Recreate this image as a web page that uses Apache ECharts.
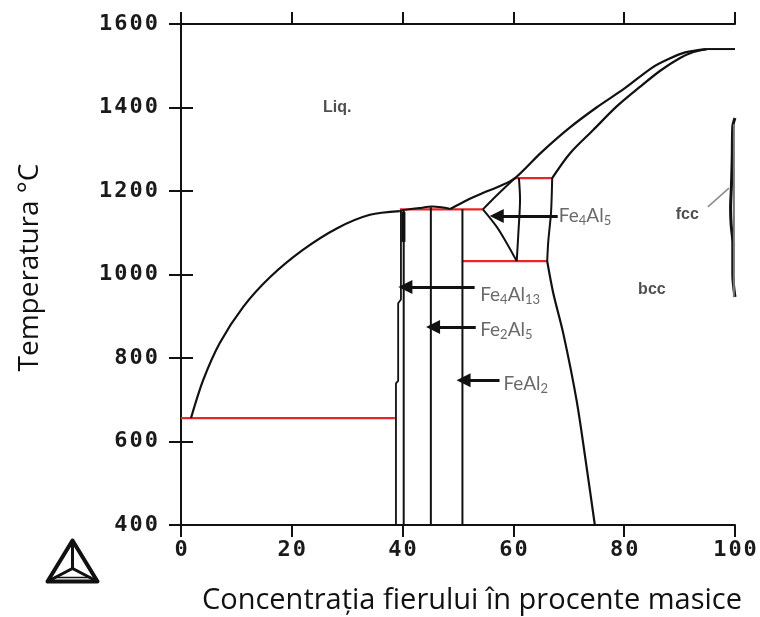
<!DOCTYPE html>
<html>
<head>
<meta charset="utf-8">
<script src="https://cdn.jsdelivr.net/npm/echarts@6/dist/echarts.min.js"></script>
<style>
html,body{margin:0;padding:0;background:#fff;}
#chart{width:760px;height:617px;}
</style>
</head>
<body>
<div id="chart"></div>
<script>
// ---- axes ----
const xTicks = [0, 20, 40, 60, 80, 100];
const yTicks = [400, 600, 800, 1000, 1200, 1400, 1600];

// ---- black phase boundaries [wt% Fe, T °C] ----
const liquidusAl = [[1.8,656],[4.0,747],[7.0,836],[11.2,922],[16.1,994],[22.0,1059],[28.2,1111],[34.1,1143],[39.5,1152]];
const liquidusHump = [[39.5,1152],[41,1156],[43,1159],[45.3,1163],[47,1161],[48.6,1157]];
const liquidusFe = [[48.6,1157],[51.6,1178],[54.5,1195],[57.6,1212],[60.3,1231],[65,1292],[70,1350],[75,1400],[80,1445],[85,1495],[88,1516],[91,1532],[94.9,1540]];
const meltFe = [[94.9,1540],[100,1540]];
const solidusBcc = [[67.0,1231],[70.2,1290],[74.4,1346],[78.6,1402],[82.9,1450],[86.5,1488],[90,1518],[92.5,1533],[94.9,1540]];
const epsUpper = [[54.5,1156],[57.2,1192],[60.3,1231]];
const epsLower = [[54.5,1156],[57.0,1114],[58.8,1075],[60.6,1032]];
const epsRight = [[61.0,1231],[61.2,1180],[60.9,1100],[60.6,1032]];
const fe4al5Right = [[67.0,1231],[66.8,1150],[66.3,1080],[66.1,1032]];
const bccBoundary = [[66.1,1032],[67.2,955],[69.0,859],[71.4,699],[73.2,540],[74.7,400]];
const fe4al13Left = [[38.8,400],[38.8,739],[39.2,745],[39.2,931],[39.7,940],[39.7,1152]];
const fe4al13Right = [[40.2,400],[40.2,1153]];
const fe4al13Thick = [[40.15,1078],[40.15,1150]];
const fe2al5Line = [[45.1,400],[45.1,1161]];
const feal2Line = [[50.8,400],[50.8,1156]];
const fccLoop = [[100,1375],[99.6,1355],[99.5,1280],[99.35,1210],[99.2,1160],[99.3,1120],[99.6,1076],[99.6,1000],[100,946]];
const fccInner = [[99.8,1360],[99.8,946]];
const fccLeader = [[95.1,1162],[98.9,1207]];

// ---- red invariant lines ----
const eutectic655 = [[0,656],[38.6,656]];
const peritectic1156 = [[39.5,1156],[54.5,1156]];
const invariant1231 = [[60.3,1231],[67.0,1231]];
const eutectoid1032 = [[50.8,1032],[66.1,1032]];

// ---- labels ----
const regionLabels = [["Liq.",28.2,1399],["bcc",85.0,965],["fcc",91.4,1143]];
const phaseLabels = [["Fe{s|4}Al{s|5}",68.2,1140],["Fe{s|4}Al{s|13}",54.0,951],["Fe{s|2}Al{s|5}",54.0,867],["FeAl{s|2}",58.2,737]];
// arrows: [fromX, toX, T]
const arrows = [[68.0,57.0,1140],[53.0,40.5,970],[53.2,45.5,874],[57.5,51.0,747]];

const chart = echarts.init(document.getElementById('chart'), null, {renderer:'canvas'});

const tickFont = {fontFamily:'DejaVu Sans Mono', fontWeight:'bold', fontSize:22, color:'#1a1a1a', padding:[0,1,0,1]};
function spaced(v){ return String(v).split('').map(c => '{d|' + c + '}').join(''); }

function line(name, data, color, width, smooth) {
  return {
    name: name, type:'line', data: data, showSymbol:false, symbol:'none',
    smooth: smooth ? 0.3 : false,
    lineStyle:{color: color, width: width}, silent:true, z: 3, clip:false
  };
}

const black = '#111111', red = '#e8262a';
const series = [
  line('eutectic655', eutectic655, red, 2.2, false),
  line('peritectic1156', peritectic1156, red, 2.2, false),
  line('invariant1231', invariant1231, red, 2.2, false),
  line('eutectoid1032', eutectoid1032, red, 2.2, false),
  line('liquidusAl', liquidusAl, black, 2.2, true),
  line('liquidusHump', liquidusHump, black, 2, true),
  line('liquidusFe', liquidusFe, black, 2.2, true),
  line('meltFe', meltFe, black, 2, false),
  line('solidusBcc', solidusBcc, black, 2.2, true),
  line('epsUpper', epsUpper, black, 2, true),
  line('epsLower', epsLower, black, 2, true),
  line('epsRight', epsRight, black, 2, true),
  line('fe4al5Right', fe4al5Right, black, 2, true),
  line('bccBoundary', bccBoundary, black, 2.2, true),
  line('fe4al13Left', fe4al13Left, black, 1.8, false),
  line('fe4al13Right', fe4al13Right, black, 2, false),
  line('fe4al13Thick', fe4al13Thick, black, 4, false),
  line('fe2al5Line', fe2al5Line, black, 2, false),
  line('feal2Line', feal2Line, black, 2, false),
  line('fccLoop', fccLoop, black, 3, true),
  line('fccInner', fccInner, '#777777', 2, false),
  line('fccLeader', fccLeader, '#8a8a8a', 1.5, false),
  {
    type:'lines', coordinateSystem:'cartesian2d', silent:true, z:4,
    symbol:['none','triangle'], symbolSize:[11,14],
    lineStyle:{color:'#111', width:3, opacity:1},
    data: arrows.map(a => ({coords:[[a[0],a[2]],[a[1],a[2]]]}))
  },
  {
    type:'scatter', symbolSize:0, silent:true, z:5,
    data: regionLabels.map(l => ({name:l[0], value:[l[1], l[2]]})),
    label:{show:true, position:'inside', formatter: p => p.name,
      fontFamily:'Liberation Sans', fontWeight:'bold', fontSize:16, color:'#222'}
  },
  {
    type:'scatter', symbolSize:0, silent:true, z:5,
    data: phaseLabels.map(l => ({name:l[0], value:[l[1], l[2]]})),
    label:{show:true, position:'right', distance:0, formatter: p => p.name,
      fontFamily:'Lato', fontSize:19, color:'#444',
      rich:{ s:{fontFamily:'Lato', fontSize:13, color:'#444', padding:[9,0,0,0]} } }
  }
];

const axisLine = {show:true, lineStyle:{color:'#111', width:2}};
const axisTick = {show:true, inside:false, length:12, lineStyle:{color:'#111', width:2}};

chart.setOption({
  animation:false,
  backgroundColor:'#fff',
  grid:{left:181, right:25, top:24, bottom:92, containLabel:false, outerBoundsMode:'none'},
  xAxis:[
    {type:'value', min:0, max:100, interval:20, position:'bottom',
     axisLine:axisLine, axisTick:axisTick, splitLine:{show:false},
     axisLabel:{show:true, margin:14, formatter: spaced, rich:{d:tickFont}},
     name:'Concentrația fierului în procente masice', nameLocation:'middle', nameGap:61,
     nameTextStyle:{fontFamily:'Open Sans', fontSize:29, color:'#111', padding:[0,0,0,28]}},
    {type:'value', min:0, max:100, interval:20, position:'top',
     axisLine:axisLine, axisTick:axisTick, splitLine:{show:false}, axisLabel:{show:false}}
  ],
  yAxis:[
    {type:'value', min:400, max:1600, interval:200, position:'left',
     axisLine:axisLine, axisTick:axisTick, splitLine:{show:false},
     axisLabel:{show:true, margin:22, formatter: spaced, rich:{d:tickFont}},
     name:'Temperatura °C', nameLocation:'middle', nameRotate:90, nameGap:137,
     nameTextStyle:{fontFamily:'Open Sans', fontSize:28, color:'#111', padding:[0,0,0,14]}},
    {type:'value', min:400, max:1600, interval:200, position:'right',
     axisLine:axisLine, axisTick:axisTick, splitLine:{show:false}, axisLabel:{show:false}}
  ],
  graphic:[
    {type:'group', left:45, top:538, children:[
      {type:'polygon', shape:{points:[[28,2],[3,43],[53,43]]}, style:{fill:'none', stroke:'#111', lineWidth:4, lineJoin:'round'}},
      {type:'polyline', shape:{points:[[28,2],[28,30]]}, style:{stroke:'#111', lineWidth:3}},
      {type:'polyline', shape:{points:[[3,43],[28,30],[53,43]]}, style:{fill:'none', stroke:'#111', lineWidth:3}},
      {type:'polyline', shape:{points:[[10,39],[46,39]]}, style:{stroke:'#111', lineWidth:1.5}}
    ]}
  ],
  series: series
});
</script>
</body>
</html>
